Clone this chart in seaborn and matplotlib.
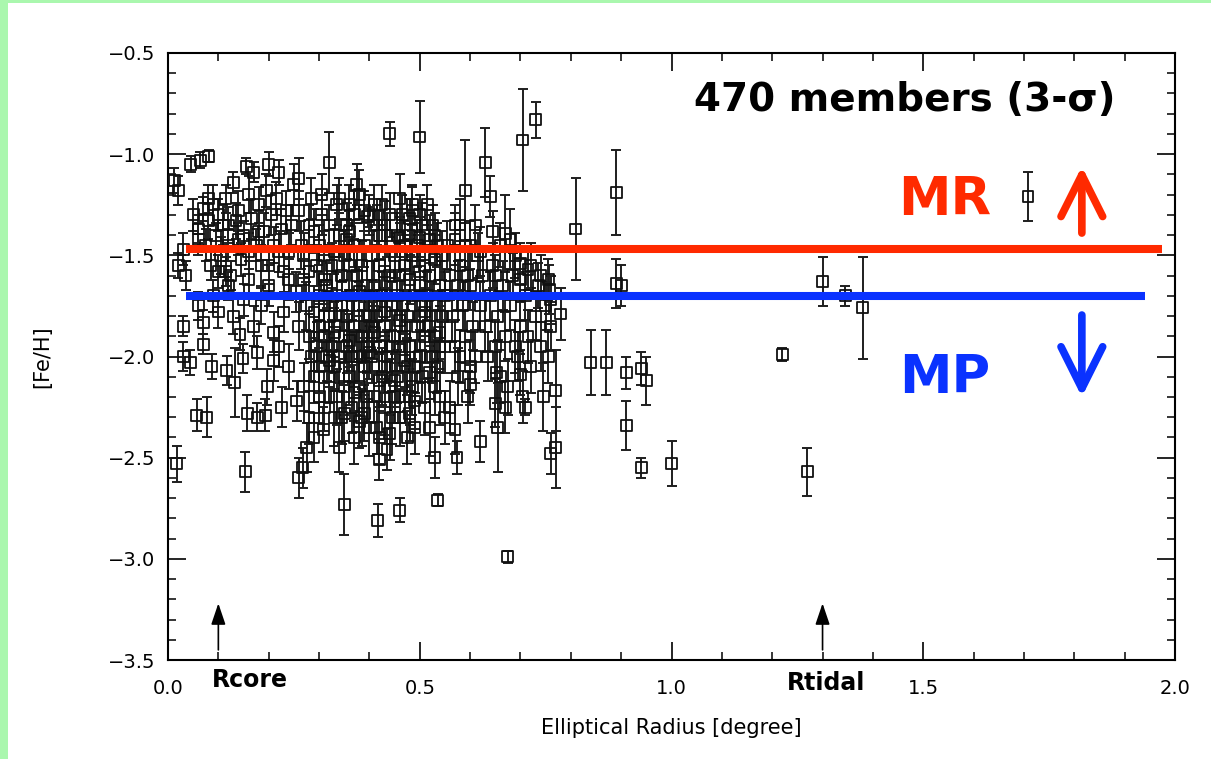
import matplotlib
matplotlib.use("Agg")
import matplotlib.pyplot as plt
from matplotlib.patches import Rectangle
from matplotlib.ticker import MultipleLocator
import numpy as np
import pandas as pd
import seaborn as sns

# ---------------- data ----------------
# upper-left clump
r_ul = [0.012,0.02,0.03,0.02,0.035,0.045,0.064,0.081,0.05,0.06,0.07,0.08,0.09,0.075,0.085,0.095,0.10,0.105,0.11,0.115,0.12,0.125,0.13,0.135,0.14,0.145,0.15,0.155,0.16,0.165,0.17,0.175,0.18,0.185,0.19,0.195,0.20,0.205,0.21,0.215,0.22,0.225,0.23,0.235,0.24,0.25,0.245]
f_ul = [-1.13,-1.18,-1.47,-1.55,-1.60,-1.05,-1.03,-1.01,-1.30,-1.37,-1.27,-1.33,-1.25,-1.45,-1.55,-1.40,-1.30,-1.50,-1.35,-1.22,-1.45,-1.60,-1.14,-1.33,-1.28,-1.52,-1.40,-1.06,-1.20,-1.32,-1.09,-1.45,-1.25,-1.55,-1.38,-1.18,-1.05,-1.30,-1.45,-1.22,-1.09,-1.37,-1.58,-1.28,-1.48,-1.15,-1.35]
e_ul = [0.06,0.07,0.08,0.06,0.07,0.04,0.04,0.03,0.08,0.07,0.06,0.09,0.10,0.08,0.07,0.06,0.08,0.09,0.10,0.07,0.08,0.07,0.05,0.09,0.10,0.08,0.07,0.04,0.09,0.10,0.05,0.08,0.09,0.10,0.09,0.08,0.06,0.10,0.09,0.08,0.06,0.10,0.10,0.10,0.09,0.10,0.10]

# lower-left
r_ll = [0.017,0.03,0.03,0.044,0.057,0.077,0.07,0.07,0.087,0.117,0.133,0.149,0.143,0.153,0.157,0.177,0.193,0.177,0.197,0.226,0.256,0.26,0.276,0.308]
f_ll = [-2.53,-1.85,-2.00,-2.03,-2.29,-2.30,-1.94,-1.83,-2.05,-2.07,-2.13,-2.01,-1.89,-2.57,-2.28,-2.30,-2.29,-1.98,-2.15,-2.25,-2.22,-2.60,-2.45,-2.36]
e_ll = [0.09,0.05,0.07,0.06,0.08,0.10,0.05,0.06,0.06,0.07,0.17,0.07,0.08,0.10,0.09,0.07,0.08,0.08,0.09,0.10,0.10,0.10,0.12,0.11]

# mid-left
r_ml = [0.06,0.09,0.10,0.12,0.13,0.15,0.16,0.17,0.185,0.20,0.21,0.22,0.23,0.24,0.21,0.115]
f_ml = [-1.75,-1.70,-1.78,-1.65,-1.80,-1.72,-1.62,-1.85,-1.75,-1.65,-1.88,-1.95,-1.78,-2.05,-2.02,-1.58]
e_ml = [0.07,0.08,0.08,0.07,0.09,0.08,0.09,0.10,0.09,0.10,0.10,0.10,0.10,0.11,0.10,0.07]

# core 0.25-0.30
r_ca = [0.26,0.265,0.27,0.275,0.28,0.285,0.29,0.295,0.26,0.27, 0.28,0.29,0.30,0.30,0.255,0.285,0.295,0.27,0.30,0.29]
f_ca = [-1.28,-1.45,-1.62,-1.75,-1.90,-2.00,-2.10,-1.55,-1.85,-2.15, -2.30,-1.38,-1.70,-2.20,-1.68,-1.22,-1.95,-1.50,-1.85,-2.40]
e_ca = [0.10,0.12,0.10,0.12,0.11,0.12,0.13,0.10,0.12,0.12, 0.13,0.11,0.12,0.13,0.10,0.10,0.12,0.11,0.11,0.12]

# core 0.30-0.35
r_cb = [0.305,0.31,0.315,0.32,0.325,0.33,0.335,0.34,0.345,0.31, 0.32,0.33,0.34,0.345,0.35,0.305,0.315,0.325,0.335,0.35, 0.31,0.32,0.33,0.34,0.345,0.35,0.335,0.31]
f_cb = [-1.30,-1.50,-1.65,-1.80,-1.95,-2.05,-2.20,-1.40,-1.60,-1.90, -2.10,-2.30,-2.45,-1.75,-1.90,-1.20,-2.00,-1.55,-1.70,-2.15, -1.75,-1.35,-1.85,-2.00,-2.30,-1.50,-1.25,-2.25]
e_cb = [0.10,0.12,0.11,0.12,0.13,0.12,0.14,0.11,0.12,0.13, 0.13,0.14,0.12,0.12,0.13,0.10,0.12,0.11,0.12,0.14, 0.12,0.10,0.12,0.13,0.13,0.12,0.10,0.12]

# core 0.35-0.40
r_cc = [0.355,0.36,0.365,0.37,0.375,0.38,0.385,0.39,0.395,0.40, 0.355,0.36,0.365,0.37,0.375,0.38,0.385,0.39,0.395,0.40, 0.36,0.37,0.38,0.39,0.40,0.355,0.365,0.385,0.395,0.375]
f_cc = [-1.35,-1.55,-1.70,-1.85,-2.00,-2.15,-2.30,-1.45,-1.65,-1.80, -1.95,-2.10,-2.25,-2.40,-1.60,-1.75,-1.90,-2.05,-2.20,-1.30, -1.25,-1.45,-2.00,-1.85,-2.35,-1.80,-2.00,-1.55,-1.95,-1.15]
e_cc = [0.11,0.12,0.12,0.13,0.13,0.14,0.14,0.11,0.12,0.13, 0.13,0.14,0.13,0.13,0.12,0.12,0.13,0.14,0.13,0.10, 0.10,0.11,0.13,0.12,0.14,0.12,0.13,0.12,0.13,0.10]

# core 0.40-0.45
r_cd = [0.405,0.41,0.415,0.42,0.425,0.43,0.435,0.44,0.445,0.45, 0.405,0.41,0.415,0.42,0.425,0.43,0.435,0.44,0.445,0.45, 0.405,0.415,0.425,0.435,0.445,0.41,0.43,0.44,0.45,0.42]
f_cd = [-1.50,-1.65,-1.80,-1.95,-2.10,-2.25,-1.40,-1.60,-1.75,-1.90, -2.00,-2.20,-1.35,-1.55,-1.70,-1.85,-2.00,-2.15,-2.30,-1.50, -1.85,-2.35,-1.25,-1.70,-1.95,-1.75,-2.05,-1.30,-2.20,-2.40]
e_cd = [0.12,0.12,0.13,0.13,0.14,0.14,0.11,0.12,0.12,0.13, 0.13,0.13,0.10,0.12,0.12,0.13,0.13,0.14,0.13,0.11, 0.12,0.13,0.10,0.12,0.13,0.12,0.13,0.11,0.13,0.13]

# core 0.45-0.50
r_ce = [0.455,0.46,0.465,0.47,0.475,0.48,0.485,0.49,0.495,0.50, 0.455,0.46,0.465,0.47,0.475,0.48,0.485,0.49,0.495,0.50, 0.46,0.47,0.48,0.49,0.50,0.455,0.475,0.485]
f_ce = [-1.40,-1.60,-1.75,-1.90,-2.05,-2.20,-1.50,-1.70,-1.85,-2.00, -2.10,-2.30,-1.30,-1.55,-1.80,-1.95,-2.15,-2.35,-1.45,-1.65, -1.95,-2.20,-1.40,-2.05,-1.80,-1.70,-2.40,-1.25]
e_ce = [0.11,0.12,0.13,0.13,0.14,0.14,0.12,0.12,0.13,0.13, 0.13,0.14,0.10,0.12,0.12,0.13,0.14,0.13,0.11,0.12, 0.13,0.13,0.11,0.13,0.12,0.12,0.13,0.10]

# core 0.50-0.55
r_cf = [0.505,0.51,0.515,0.52,0.525,0.53,0.535,0.54,0.545,0.55, 0.505,0.51,0.515,0.52,0.525,0.53,0.535,0.54,0.545,0.55, 0.51,0.52,0.53,0.54,0.55]
f_cf = [-1.35,-1.55,-1.70,-1.85,-2.00,-2.15,-1.45,-1.65,-1.80,-1.95, -2.10,-2.25,-1.25,-1.60,-1.75,-1.90,-2.05,-2.20,-1.50,-1.70, -1.90,-2.35,-1.40,-1.95,-2.30]
e_cf = [0.11,0.12,0.12,0.13,0.13,0.14,0.11,0.12,0.13,0.13, 0.13,0.14,0.10,0.12,0.12,0.13,0.13,0.14,0.12,0.12, 0.13,0.14,0.11,0.13,0.13]

# core 0.55-0.62
r_cg = [0.555,0.56,0.565,0.57,0.575,0.58,0.585,0.59,0.595,0.60, 0.605,0.61,0.615,0.62,0.56,0.57,0.58,0.59,0.60,0.61, 0.575,0.595]
f_cg = [-1.45,-1.60,-1.80,-1.95,-2.10,-1.55,-1.75,-1.90,-2.20,-1.65, -1.85,-2.00,-1.50,-1.75,-2.25,-1.35,-2.00,-1.45,-2.05,-1.35, -1.65,-1.60]
e_cg = [0.12,0.12,0.13,0.13,0.14,0.12,0.12,0.13,0.13,0.12, 0.12,0.13,0.11,0.12,0.13,0.10,0.13,0.11,0.13,0.10, 0.12,0.12]

# core 0.62-0.80
r_ch = [0.625,0.63,0.635,0.64,0.645,0.65,0.655,0.66,0.665,0.67, 0.675,0.68,0.685,0.69,0.695,0.70,0.71,0.715,0.72,0.73, 0.735,0.74,0.75,0.755,0.76,0.645,0.66,0.69,0.72,0.67, 0.705,0.74,0.76]
f_ch = [-1.60,-1.85,-2.00,-1.70,-1.55,-1.95,-1.80,-2.10,-1.65,-1.90, -2.15,-1.75,-1.60,-1.95,-2.00,-1.85,-1.70,-1.90,-2.05,-1.80, -1.65,-1.95,-1.75,-2.00,-1.85,-1.38,-1.45,-1.50,-1.55,-2.25, -2.20,-1.60,-1.72]
e_ch = [0.12,0.13,0.12,0.12,0.11,0.13,0.12,0.13,0.12,0.12, 0.14,0.12,0.11,0.13,0.12,0.12,0.12,0.13,0.13,0.12, 0.11,0.12,0.12,0.13,0.12,0.10,0.11,0.11,0.11,0.13, 0.13,0.10,0.12]

# upper edge of the core
r_up = [0.26,0.28,0.30,0.34,0.355,0.39,0.36,0.37,0.38,0.41, 0.42,0.43,0.46,0.47,0.50,0.48,0.52,0.57,0.58,0.60, 0.62,0.65,0.68,0.70,0.485,0.526,0.50,0.46]
f_up = [-1.12,-1.35,-1.45,-1.22,-1.42,-1.28,-1.38,-1.30,-1.20,-1.25, -1.40,-1.35,-1.22,-1.45,-1.30,-1.32,-1.42,-1.42,-1.35,-1.45, -1.48,-1.60,-1.42,-1.62,-1.28,-1.35,-1.41,-1.41]
e_up = [0.10,0.10,0.10,0.10,0.10,0.10,0.10,0.12,0.12,0.10, 0.12,0.12,0.12,0.12,0.10,0.10,0.12,0.13,0.13,0.12, 0.12,0.10,0.15,0.10,0.12,0.10,0.10,0.10]

# extra stars filling the densest parts
r_dn = [0.28,0.29,0.31,0.32,0.33,0.36,0.37,0.38,0.39,0.41, 0.42,0.43,0.44,0.46,0.47,0.48,0.49,0.51,0.52,0.53,
        0.30,0.33,0.35,0.38,0.40,0.43,0.45,0.48,0.50,0.54, 0.06,0.08,0.10,0.12,0.14,0.16,0.18,0.20,0.22,0.24]
f_dn = [-1.58,-1.78,-1.62,-2.02,-1.48,-1.92,-2.18,-1.68,-2.28,-1.88, -2.12,-1.58,-2.38,-1.82,-2.02,-1.62,-2.22,-1.78,-2.08,-1.52,
        -2.05,-1.88,-2.28,-2.32,-1.98,-1.78,-2.12,-2.28,-1.58,-1.88, -1.42,-1.22,-1.58,-1.35,-1.42,-1.48,-1.38,-1.55,-1.48,-1.62]
e_dn = [0.12,0.13,0.12,0.13,0.11,0.13,0.14,0.12,0.14,0.13, 0.13,0.12,0.13,0.12,0.13,0.12,0.14,0.12,0.13,0.12,
        0.13,0.12,0.14,0.13,0.13,0.12,0.13,0.14,0.12,0.13, 0.08,0.07,0.08,0.09,0.08,0.09,0.10,0.09,0.10,0.10]

# sparse / outlying stars
r_out = [0.32,0.44,0.397,0.50,0.59,0.63,0.64,0.67,0.705,0.73, 0.81,0.89,0.89,0.90,0.70,0.715,0.755,0.757,0.78,0.84,
         0.87,0.91,0.94,0.95,0.91,0.94,1.00,1.22,0.77,0.745, 0.71,0.77,0.76,0.655,0.62,0.53,0.536,0.675,0.574,0.46,
         0.60,0.65,0.70,1.708,1.30,1.345,1.38,1.27,0.35,0.417, 0.42,0.435,0.57,0.653,0.268]
f_out = [-1.04,-0.90,-1.31,-0.915,-1.18,-1.04,-1.21,-1.39,-0.93,-0.83, -1.37,-1.19,-1.64,-1.65,-1.54,-1.57,-1.62,-1.67,-1.79,-2.03,
         -2.03,-2.08,-2.06,-2.12,-2.34,-2.55,-2.53,-1.99,-2.17,-2.20, -2.25,-2.45,-2.48,-2.35,-2.42,-2.50,-2.71,-2.99,-2.50,-2.76,
         -2.14,-2.23,-2.09,-1.21,-1.63,-1.70,-1.76,-2.57,-2.73,-2.81, -2.51,-2.46,-2.36,-2.08,-2.55]
e_out = [0.15,0.06,0.05,0.18,0.25,0.17,0.10,0.19,0.25,0.09, 0.25,0.21,0.12,0.10,0.10,0.10,0.10,0.12,0.13,0.16,
         0.16,0.08,0.08,0.12,0.12,0.05,0.11,0.03,0.20,0.17, 0.04,0.20,0.10,0.22,0.10,0.10,0.03,0.03,0.08,0.06,
         0.10,0.12,0.10,0.12,0.12,0.05,0.25,0.12,0.15,0.08, 0.10,0.10,0.12,0.15,0.10]

# reference metallicity levels (MR / MP split)
mr_level, mr_start, mr_end = -1.47, 0.036, 1.974
mp_level, mp_start, mp_end = -1.70, 0.036, 1.940
rcore, rtidal = 0.10, 1.30

x_ticks = [0.0, 0.5, 1.0, 1.5, 2.0]
y_ticks = [-3.5, -3.0, -2.5, -2.0, -1.5, -1.0, -0.5]

radius = r_ul + r_ll + r_ml + r_ca + r_cb + r_cc + r_cd + r_ce + r_cf + r_cg + r_ch + r_up + r_dn + r_out
feh = f_ul + f_ll + f_ml + f_ca + f_cb + f_cc + f_cd + f_ce + f_cf + f_cg + f_ch + f_up + f_dn + f_out
feh_err = e_ul + e_ll + e_ml + e_ca + e_cb + e_cc + e_cd + e_ce + e_cf + e_cg + e_ch + e_up + e_dn + e_out
df = pd.DataFrame({"radius": radius, "feh": feh, "err": feh_err})

# ---------------- figure ----------------
sns.set_style("ticks")
plt.rcParams["font.family"] = ["DejaVu Sans"]
plt.rcParams["text.color"] = "black"
plt.rcParams["axes.labelcolor"] = "black"
plt.rcParams["xtick.color"] = "black"
plt.rcParams["ytick.color"] = "black"
RED = "#FF2A00"
BLUE = "#0A32FF"
GREEN = "#AAF7AE"

fig = plt.figure(figsize=(12.11, 7.59), dpi=100)
fig.patch.set_facecolor("white")
fig.patches.append(Rectangle((0, 0), 8 / 1211, 1, transform=fig.transFigure,
                             facecolor=GREEN, edgecolor="none", zorder=0))
fig.patches.append(Rectangle((0, 1 - 3 / 759), 1, 3 / 759, transform=fig.transFigure,
                             facecolor=GREEN, edgecolor="none", zorder=0))

ax = fig.add_axes([168 / 1211, 99 / 759, 1007 / 1211, 607 / 759])

ax.errorbar(df["radius"], df["feh"], yerr=df["err"], fmt="none", ecolor="#1e1e1e",
            elinewidth=1.4, capsize=3.8, capthick=1.4, zorder=2)
sns.scatterplot(data=df, x="radius", y="feh", marker="s", s=62, facecolor="none",
                edgecolor="#111111", linewidth=1.3, ax=ax, legend=False, zorder=3)

ax.hlines(mr_level, mr_start, mr_end, color=RED, lw=5.8, zorder=4)
ax.hlines(mp_level, mp_start, mp_end, color=BLUE, lw=5.8, zorder=4)

ax.set_xlim(0, 2)
ax.set_ylim(-3.5, -0.5)
ax.set_xticks(x_ticks)
ax.set_yticks(y_ticks)
ax.xaxis.set_minor_locator(MultipleLocator(0.1))
ax.yaxis.set_minor_locator(MultipleLocator(0.1))
ax.tick_params(which="major", direction="in", length=13, width=1.2, top=True, right=True,
               labelsize=14, color="black", labelcolor="black")
ax.tick_params(which="minor", direction="in", length=6, width=1.1, top=True, right=True)
ax.tick_params(axis="x", which="major", pad=14)
ax.tick_params(axis="y", which="major", pad=9)
for sp in ax.spines.values():
    sp.set_linewidth(1.5)
    sp.set_color("black")

ax.set_xlabel("Elliptical Radius [degree]", fontsize=15, color="black")
ax.set_ylabel("[Fe/H]", fontsize=15, color="black")
ax.xaxis.set_label_coords(0.5, -0.095)
ax.yaxis.set_label_coords(-0.115, 0.5)

ax.text(1.464, -0.732, "470 members (3-σ)", fontsize=28, fontweight="bold",
        color="black", ha="center", va="center", zorder=5)
ax.text(1.543, -1.227, "MR", color=RED, fontsize=38, fontweight="bold",
        ha="center", va="center", zorder=5)
ax.text(1.543, -2.107, "MP", color=BLUE, fontsize=38, fontweight="bold",
        ha="center", va="center", zorder=5)

ax.annotate("", xy=(1.815, -1.06), xytext=(1.815, -1.39),
            arrowprops=dict(arrowstyle="->,head_length=1.0,head_width=0.5", color=RED,
                            lw=5.5, mutation_scale=30, shrinkA=0, shrinkB=0))
ax.annotate("", xy=(1.815, -2.20), xytext=(1.815, -1.795),
            arrowprops=dict(arrowstyle="->,head_length=1.0,head_width=0.5", color=BLUE,
                            lw=5.5, mutation_scale=30, shrinkA=0, shrinkB=0))

for xr in (rcore, rtidal):
    ax.annotate("", xy=(xr, -3.22), xytext=(xr, -3.45),
                arrowprops=dict(arrowstyle="-|>,head_length=0.65,head_width=0.22",
                                color="black", lw=1.2, mutation_scale=20,
                                shrinkA=0, shrinkB=0))
ax.text(0.163, -3.60, "Rcore", fontsize=17, fontweight="bold", color="black",
        ha="center", va="center", clip_on=False, zorder=5)
ax.text(1.307, -3.615, "Rtidal", fontsize=17, fontweight="bold", color="black",
        ha="center", va="center", clip_on=False, zorder=5)

fig.savefig("out.png", dpi=100)
